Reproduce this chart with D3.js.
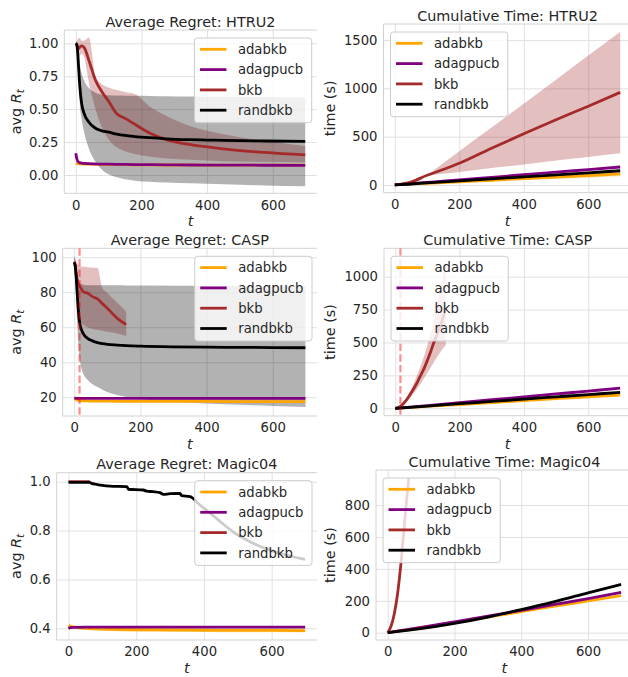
<!DOCTYPE html>
<html><head><meta charset="utf-8">
<script src="https://cdn.jsdelivr.net/npm/d3@7"></script>
<style>body{margin:0;background:#fff;} text{font-family:"DejaVu Sans",sans-serif;}</style>
</head><body>
<script>
// ---------- data ----------
const methods = ["adabkb","adagpucb","bkb","randbkb"];
const colors  = ["#ffa500","#800080","#a52a2a","#000000"];
const xTicks  = [0,200,400,600];

// HTRU2 – average regret
const htruRegT      = [0,3,6,9,12,18,25,40,60,80,100,125,150,180,225,275,350,450,575,699];
const htruRegAda    = [0.09,0.088,0.087,0.086,0.085,0.084,0.083,0.082,0.081,0.08,0.079,0.078,0.078,0.077,0.077,0.076,0.076,0.075,0.075,0.075];
const htruRegAdag   = [0.165,0.125,0.105,0.098,0.094,0.09,0.088,0.086,0.084,0.083,0.082,0.081,0.08,0.079,0.078,0.077,0.076,0.075,0.074,0.073];
const htruRegBkb    = [1.0,0.99,0.97,0.96,0.97,0.98,0.97,0.87,0.72,0.63,0.56,0.465,0.43,0.385,0.318,0.268,0.23,0.198,0.171,0.152];
const htruRegBkbLo  = [0.99,0.96,0.91,0.88,0.9,0.92,0.9,0.7,0.5,0.36,0.27,0.21,0.18,0.16,0.14,0.125,0.115,0.105,0.1,0.095];
const htruRegBkbHi  = [1.0,1.02,1.03,1.04,1.04,1.02,1.02,1.045,0.75,0.69,0.665,0.645,0.63,0.615,0.52,0.45,0.37,0.31,0.26,0.22];
const htruRegRand   = [1.0,0.99,0.92,0.8,0.68,0.54,0.47,0.4,0.355,0.335,0.325,0.31,0.3,0.292,0.283,0.275,0.268,0.263,0.258,0.255];
const htruRegRandLo = [1.0,0.97,0.85,0.7,0.55,0.42,0.33,0.2,0.1,0.04,0.005,-0.018,-0.032,-0.043,-0.051,-0.057,-0.063,-0.071,-0.079,-0.085];
const htruRegRandHi = [1.0,1.0,0.99,0.93,0.85,0.77,0.72,0.66,0.625,0.61,0.605,0.603,0.602,0.601,0.6,0.598,0.596,0.594,0.592,0.59];

// HTRU2 – cumulative time
const htruTimeT     = [0,50,100,150,200,300,400,500,600,699];
const htruTimeAda   = [0,8,16,24,32,49,65,82,98,114];
const htruTimeAdaLo = [0,6,13,19,26,39,52,65,78,91];
const htruTimeAdaHi = [0,10,19,29,38,59,78,99,118,137];
const htruTimeAdag  = [0,13,26,39,52,79,106,133,159,186];
const htruTimeBkb   = [0,30,100,160,224,380,530,675,815,958];
const htruTimeBkbLo = [0,28,95,115,135,175,213,252,290,328];
const htruTimeBkbHi = [0,32,105,225,350,595,840,1090,1340,1587];
const htruTimeRand  = [0,10,21,31,42,63,84,105,126,147];

// CASP – average regret
const caspRegT      = [0,3,6,10,14,18,24,30,40,55,70,85,100,130,157,200,300,400,500,600,699];
const caspRegAda    = [19.3,19,18.7,18.4,18.2,18.1,18,17.95,17.9,17.85,17.8,17.8,17.75,17.7,17.7,17.65,17.6,17.6,17.55,17.5,17.5];
const caspRegAdag   = [19.5,19.5,19.4,19.4,19.4,19.4,19.4,19.4,19.4,19.4,19.4,19.4,19.4,19.4,19.4,19.4,19.4,19.4,19.4,19.4,19.4];
const caspBkbT      = [0,3,6,10,14,18,24,30,40,55,70,85,100,130,157];
const caspRegBkb    = [97.5,95,90,86,84,83,81,80,79.5,77.5,76.2,73.5,70.8,65.1,61.5];
const caspRegBkbLo  = [95,90,82,72,66,64,62,61,60,59,58.5,58,57.5,56.5,55];
const caspRegBkbHi  = [100.7,99,97,96,95.5,95,94.5,94.5,94.3,94,94,82.5,79.5,74,69];
const caspRegRand   = [97,95,88,76,66,61,57.5,55.5,53.7,52.2,51.2,50.6,50.2,49.8,49.5,49.2,48.8,48.6,48.5,48.4,48.3];
const caspRegRandLo = [95,88,75,58,46,40,35,32.5,30,27.5,25.8,24.3,23,21.3,20.2,19,17.5,16.5,15.7,15,14.5];
const caspRegRandHi = [100,99,95,90,87,85,84.5,84.2,84,84,84,84,84,84,83.9,83.8,83.7,83.6,83.5,83.5,83.5];
const caspCutoff    = [16];

// CASP – cumulative time
const caspTimeT     = [0,100,200,300,400,500,600,699];
const caspTimeAda   = [0,15,29,44,58,73,87,101];
const caspTimeAdag  = [0,21,43,65,87,109,131,153];
const caspTimeRand  = [0,17,35,52,70,87,104,121];
const caspTimeBkbT  = [0,10,20,30,40,50,60,70,80,90,100,110,120,130,140,150,157];
const caspTimeBkb   = [0,6,22,48,82,120,160,205,255,305,365,430,500,560,625,700,765];
const caspTimeBkbLo = [0,4,16,36,62,92,122,155,190,230,270,310,350,390,425,460,480];
const caspTimeBkbHi = [0,8,28,60,100,150,205,265,330,400,480,570,670,780,900,1040,1155];

// Magic04 – average regret
const magRegT       = [0,5,20,50,100,200,300,400,500,600,699];
const magRegAda     = [0.412,0.408,0.404,0.4,0.397,0.394,0.393,0.392,0.391,0.391,0.39];
const magRegAdaLo   = [0.403,0.4,0.397,0.393,0.39,0.387,0.386,0.385,0.384,0.384,0.383];
const magRegAdaHi   = [0.42,0.416,0.411,0.407,0.404,0.401,0.4,0.399,0.398,0.398,0.397];
const magRegAdag    = [0.398,0.403,0.404,0.405,0.405,0.405,0.405,0.405,0.405,0.405,0.405];
const magBkbT       = [0,20,40,63];
const magRegBkb     = [1.0,1.0,1.0,1.0];
const magRandT      = [0,62,68,83,100,122,172,177,221,231,250,270,280,300,329,334,359,388,437,486,536,585,634,699];
const magRegRand    = [0.997,0.997,0.993,0.989,0.985,0.982,0.98,0.969,0.966,0.961,0.959,0.955,0.948,0.951,0.952,0.943,0.939,0.905,0.85,0.795,0.754,0.725,0.703,0.682];

// Magic04 – cumulative time
const magTimeT      = [0,100,200,300,400,500,600,699];
const magTimeAda    = [0,31,64,98,132,166,199,232];
const magTimeAdag   = [0,33,68,104,140,177,214,252];
const magTimeRand   = [0,25,58,98,145,195,250,303];
const magTimeBkbT   = [0,10,20,30,40,50,63];
const magTimeBkb    = [0,40,120,250,440,680,968];

// ---------- panels ----------
const S = (i, t, v, lo, hi) => ({name: methods[i], color: colors[i], t, v, lo, hi});
const panels = [
  {title:"Average Regret: HTRU2", ylab:"regret", l:64.3, r:316.7, t:30, b:193.3, ydom:[-0.139,1.101], yticks:[0,0.25,0.5,0.75,1], fmt:".2f", legend:"right", ylx:20.5,
   series:[S(0,htruRegT,htruRegAda),S(1,htruRegT,htruRegAdag),S(2,htruRegT,htruRegBkb,htruRegBkbLo,htruRegBkbHi),S(3,htruRegT,htruRegRand,htruRegRandLo,htruRegRandHi)]},
  {title:"Cumulative Time: HTRU2", ylab:"time", l:383.5, r:631.5, t:24, b:192.7, ydom:[-80,1666], yticks:[0,500,1000,1500], fmt:"d", legend:"left", ylx:335,
   series:[S(0,htruTimeT,htruTimeAda,htruTimeAdaLo,htruTimeAdaHi),S(1,htruTimeT,htruTimeAdag),S(2,htruTimeT,htruTimeBkb,htruTimeBkbLo,htruTimeBkbHi),S(3,htruTimeT,htruTimeRand)]},
  {title:"Average Regret: CASP", ylab:"regret", l:62.7, r:317, t:248.3, b:416, ydom:[9.3,105.1], yticks:[20,40,60,80,100], fmt:"d", legend:"right", ylx:20.5, vline:caspCutoff,
   series:[S(0,caspRegT,caspRegAda),S(1,caspRegT,caspRegAdag),S(2,caspBkbT,caspRegBkb,caspRegBkbLo,caspRegBkbHi),S(3,caspRegT,caspRegRand,caspRegRandLo,caspRegRandHi)]},
  {title:"Cumulative Time: CASP", ylab:"time", l:384, r:631.4, t:248.3, b:415.7, ydom:[-56.2,1215.8], yticks:[0,250,500,750,1000], fmt:"d", legend:"left", ylx:335, vline:caspCutoff,
   series:[S(0,caspTimeT,caspTimeAda),S(1,caspTimeT,caspTimeAdag),S(2,caspTimeBkbT,caspTimeBkb,caspTimeBkbLo,caspTimeBkbHi),S(3,caspTimeT,caspTimeRand)]},
  {title:"Average Regret: Magic04", ylab:"regret", l:56.7, r:317, t:472.7, b:640, ydom:[0.352,1.0368], yticks:[0.4,0.6,0.8,1.0], fmt:".1f", legend:"right", ylx:20.5,
   series:[S(0,magRegT,magRegAda,magRegAdaLo,magRegAdaHi),S(1,magRegT,magRegAdag),S(2,magBkbT,magRegBkb),S(3,magRandT,magRegRand)]},
  {title:"Cumulative Time: Magic04", ylab:"time", l:376, r:632.8, t:470, b:640, ydom:[-45.7,1019.4], yticks:[0,200,400,600,800], fmt:"d", legend:"left", ylx:335,
   series:[S(0,magTimeT,magTimeAda),S(1,magTimeT,magTimeAdag),S(2,magTimeBkbT,magTimeBkb),S(3,magTimeT,magTimeRand)]}
];

const TXT = "#262626";
const svg = d3.select("body").append("svg").attr("width",628).attr("height",677);
svg.append("rect").attr("width",628).attr("height",677).attr("fill","#fff");
const defs = svg.append("defs");

panels.forEach((p, pi) => {
  const g = svg.append("g");
  const w = p.r - p.l, h = p.b - p.t;
  const x = d3.scaleLinear().domain([-35,734]).range([p.l,p.r]);
  const y = d3.scaleLinear().domain(p.ydom).range([p.b,p.t]);

  // grid
  g.append("g").attr("transform",`translate(0,${p.b})`)
    .call(d3.axisBottom(x).tickValues(xTicks).tickSize(-h).tickFormat(""))
    .call(a => { a.select(".domain").remove(); a.selectAll("line").attr("stroke","#e0e0e0").attr("stroke-width",1); });
  g.append("g").attr("transform",`translate(${p.l},0)`)
    .call(d3.axisLeft(y).tickValues(p.yticks).tickSize(-w).tickFormat(""))
    .call(a => { a.select(".domain").remove(); a.selectAll("line").attr("stroke","#e0e0e0").attr("stroke-width",1); });

  // spines
  const sp = "#d2d2d2";
  g.append("line").attr("x1",p.l).attr("x2",p.l).attr("y1",p.t).attr("y2",p.b).attr("stroke",sp);
  g.append("line").attr("x1",p.l).attr("x2",p.r).attr("y1",p.b).attr("y2",p.b).attr("stroke",sp);
  g.append("line").attr("x1",p.l).attr("x2",p.r).attr("y1",p.t).attr("y2",p.t).attr("stroke",sp);

  // tick labels
  g.append("g").attr("transform",`translate(0,${p.b})`)
    .call(d3.axisBottom(x).tickValues(xTicks).tickSize(0).tickPadding(7).tickFormat(d3.format("d")))
    .call(a => { a.select(".domain").remove(); a.selectAll("text").attr("font-size",13.2).attr("fill",TXT).attr("font-family","DejaVu Sans"); });
  g.append("g").attr("transform",`translate(${p.l},0)`)
    .call(d3.axisLeft(y).tickValues(p.yticks).tickSize(0).tickPadding(6).tickFormat(d3.format(p.fmt)))
    .call(a => { a.select(".domain").remove(); a.selectAll("text").attr("font-size",13.2).attr("fill",TXT).attr("font-family","DejaVu Sans"); });

  // title
  g.append("text").attr("x",(p.l+p.r)/2).attr("y",p.t-3.5).attr("text-anchor","middle")
    .attr("font-size",14.4).attr("fill",TXT).text(p.title);

  // x label
  g.append("text").attr("x",(p.l+p.r)/2).attr("y",p.b+33).attr("text-anchor","middle")
    .attr("font-size",14.4).attr("font-style","italic").attr("fill",TXT).text("t");

  // y label
  const yl = g.append("text").attr("transform",`translate(${p.ylx},${(p.t+p.b)/2}) rotate(-90)`)
    .attr("text-anchor","middle").attr("font-size",14.4).attr("fill",TXT);
  if (p.ylab === "regret") {
    yl.append("tspan").text("avg ");
    yl.append("tspan").attr("font-style","italic").text("R");
    yl.append("tspan").attr("font-style","italic").attr("font-size",10.5).attr("dy",3).text("t");
  } else {
    yl.text("time (s)");
  }

  // data
  const cid = "clip" + pi;
  defs.append("clipPath").attr("id",cid).append("rect").attr("x",p.l).attr("y",p.t).attr("width",w).attr("height",h);
  const pg = g.append("g").attr("clip-path",`url(#${cid})`);

  const area = d3.area().x(d=>x(d.t)).y0(d=>y(d.lo)).y1(d=>y(d.hi)).curve(d3.curveMonotoneX);
  const line = d3.line().x(d=>x(d.t)).y(d=>y(d.v)).curve(d3.curveMonotoneX);

  p.series.forEach(s => {
    if (s.lo) {
      const pts = s.t.map((t,i)=>({t, lo:s.lo[i], hi:s.hi[i]}));
      pg.append("path").datum(pts).attr("d",area).attr("fill",s.color).attr("fill-opacity",0.3).attr("stroke","none");
    }
  });
  p.series.forEach(s => {
    const pts = s.t.map((t,i)=>({t, v:s.v[i]}));
    pg.append("path").datum(pts).attr("d",line).attr("fill","none").attr("stroke",s.color)
      .attr("stroke-width",2.8).attr("stroke-linejoin","round");
  });
  if (p.vline) {
    p.vline.forEach(v => {
      pg.append("line").attr("x1",x(v)).attr("x2",x(v)).attr("y1",p.t).attr("y2",p.b)
        .attr("stroke","#ff0000").attr("stroke-opacity",0.45).attr("stroke-width",2.2).attr("stroke-dasharray","7.4,3.2");
    });
  }

  // legend
  const lg = g.append("g");
  const rowH = 20.3, boxH = 11.3 + 3*rowH + 12.5;
  const texts = [];
  methods.forEach((m,i) => {
    texts.push(lg.append("text").attr("font-size",13.2).attr("fill",TXT).attr("dy","0.35em").text(m));
  });
  const maxW = d3.max(texts, t => t.node().getComputedTextLength());
  const boxW = 43.5 + maxW + 8.5;
  const bx = p.legend === "right" ? p.r - 5 - boxW : p.l + 7;
  const by = p.t + 8;
  lg.insert("rect", ":first-child").attr("x",bx).attr("y",by).attr("width",boxW).attr("height",boxH)
    .attr("rx",3).attr("fill","#fff").attr("fill-opacity",0.8).attr("stroke","#cccccc").attr("stroke-width",1);
  methods.forEach((m,i) => {
    const ry = by + 11.3 + i*rowH;
    lg.append("line").attr("x1",bx+5.5).attr("x2",bx+32).attr("y1",ry).attr("y2",ry)
      .attr("stroke",colors[i]).attr("stroke-width",2.8);
    texts[i].attr("x",bx+43.5).attr("y",ry);
  });
});
</script>
</body></html>
